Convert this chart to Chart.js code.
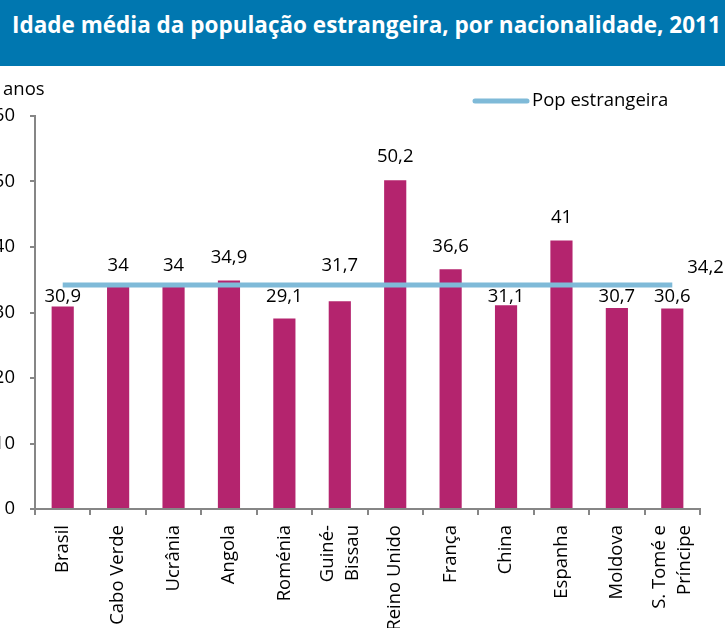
<!DOCTYPE html>
<html>
<head>
<meta charset="utf-8">
<script src="https://cdn.jsdelivr.net/npm/chart.js@4.4.0/dist/chart.umd.min.js"></script>
<style>
  html, body { margin: 0; padding: 0; background: #fff; }
  #banner { position: absolute; left: 0; top: 0; width: 725px; height: 66px; background: #0077B0; }
  #title { position: absolute; left: 12px; top: 9px; color: #fff; font-family: "Open Sans", sans-serif; font-weight: bold; font-size: 22.5px; white-space: nowrap; }
  #wrap { position: absolute; left: 0; top: 66px; width: 725px; height: 562px; }
</style>
</head>
<body>
<div id="banner"><div id="title">Idade média da população estrangeira, por nacionalidade, 2011</div></div>
<div id="wrap"><canvas id="c" width="725" height="562"></canvas></div>
<script>
const categories = ["Brasil", "Cabo Verde", "Ucrânia", "Angola", "Roménia", ["Guiné-", "Bissau"], "Reino Unido", "França", "China", "Espanha", "Moldova", ["S. Tomé e", "Príncipe"]];
const idadeMedia = [30.9, 34, 34, 34.9, 29.1, 31.7, 50.2, 36.6, 31.1, 41, 30.7, 30.6];
const popEstrangeira = [34.2, 34.2, 34.2, 34.2, 34.2, 34.2, 34.2, 34.2, 34.2, 34.2, 34.2, 34.2];
const yTicks = [0, 10, 20, 30, 40, 50, 60];
const unitLabel = "anos";
const lineLabel = "Pop estrangeira";

const FONT = "Open Sans";
const FS = 18.5;
const BAR = "#B4246E";
const LINE = "#7FBAD8";
const AXIS = "#868686";
const fmt = v => String(v).replace('.', ',');

const labelPlugin = {
  id: 'labels',
  afterDatasetsDraw(chart) {
    const ctx = chart.ctx;
    const yS = chart.scales.y;
    const xS = chart.scales.x;
    const barMeta = chart.getDatasetMeta(1);
    const lineMeta = chart.getDatasetMeta(0);
    ctx.save();
    ctx.font = FS + "px '" + FONT + "'";
    ctx.fillStyle = "#000";
    ctx.textAlign = "center";
    ctx.textBaseline = "middle";
    barMeta.data.forEach((bar, i) => {
      const top = bar.y;
      const lineY = yS.getPixelForValue(popEstrangeira[i]);
      let ly;
      if (top < lineY - 3) ly = top - 23;
      else if (top - lineY >= 20) ly = lineY + 12;
      else ly = lineY - 19;
      ctx.fillText(fmt(idadeMedia[i]), bar.x, ly);
    });
    const last = lineMeta.data[lineMeta.data.length - 1];
    ctx.textAlign = "left";
    ctx.fillText(fmt(popEstrangeira[popEstrangeira.length - 1]), last.x + 15, last.y - 17);
    // unit label
    ctx.fillText(unitLabel, 3, 24);
    // legend
    ctx.strokeStyle = LINE;
    ctx.lineWidth = 5;
    ctx.lineCap = "round";
    ctx.beginPath();
    ctx.moveTo(475, 35);
    ctx.lineTo(527, 35);
    ctx.stroke();
    ctx.fillText(lineLabel, 532, 35);
    // rotated category labels, multi-line centred on the tick
    const lh = 25;
    ctx.textAlign = "right";
    categories.forEach((lab, i) => {
      const lines = Array.isArray(lab) ? lab : [lab];
      const x = xS.getPixelForTick(i);
      ctx.save();
      ctx.translate(x, xS.top + 16);
      ctx.rotate(-Math.PI / 2);
      lines.forEach((t, k) => {
        ctx.fillText(t, 0, (k - (lines.length - 1) / 2) * lh);
      });
      ctx.restore();
    });
    ctx.restore();
  }
};

new Chart(document.getElementById('c'), {
  data: {
    labels: categories,
    datasets: [
      { type: 'line', label: lineLabel, data: popEstrangeira, borderColor: LINE, borderWidth: 5, pointRadius: 0, order: 0, fill: false },
      { type: 'bar', label: 'Idade média', data: idadeMedia, backgroundColor: BAR, barPercentage: 0.8, categoryPercentage: 0.5, order: 1 }
    ]
  },
  options: {
    responsive: false,
    animation: false,
    layout: { padding: { top: 50, right: 25, left: 0, bottom: 0 } },
    plugins: { legend: { display: false }, tooltip: { enabled: false } },
    scales: {
      x: {
        grid: { offset: true, drawOnChartArea: false, drawTicks: true, tickLength: 6, color: AXIS, lineWidth: 2 },
        border: { color: AXIS, width: 2 },
        ticks: { display: false, autoSkip: false },
        afterFit(s) { s.height = 119; }
      },
      y: {
        min: 0, max: 60,
        afterBuildTicks(s) { s.ticks = yTicks.map(v => ({ value: v })); },
        grid: { drawOnChartArea: false, drawTicks: true, tickLength: 5, color: AXIS, lineWidth: 2 },
        border: { color: AXIS, width: 2 },
        ticks: { padding: 15, color: "#000", font: { family: FONT, size: FS } },
        afterFit(s) { s.width = 35; }
      }
    }
  },
  plugins: [labelPlugin]
});
</script>
</body>
</html>
